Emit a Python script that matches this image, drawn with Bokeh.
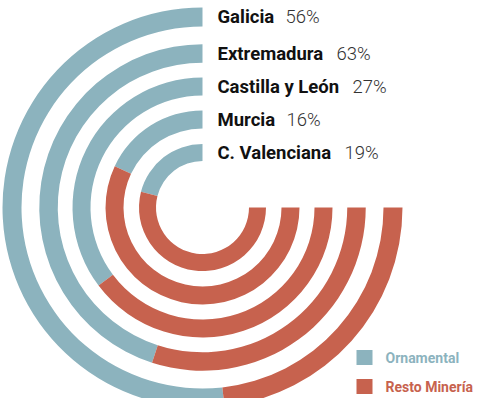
import math
from bokeh.plotting import figure
from bokeh.models import ColumnDataSource
from bokeh.core.properties import value
from bokeh.embed import file_html
from bokeh.resources import INLINE

# ---- data ----
regions = ["Galicia", "Extremadura", "Castilla y León", "Murcia", "C. Valenciana"]
label_pct = [56, 63, 27, 16, 19]
ornamental_share = [69, 60, 47, 24, 28]   # share of the 270° arc (%)
series = ["Ornamental", "Resto Minería"]
series_colors = ["#8cb3be", "#c7624e"]

# ---- layout ----
W, H = 483, 398
cx, cy = 202, 191
mid_r = [190.5, 154, 121, 88, 55]
thick = [19, 18.5, 18, 18, 17]
name_px = [57, 108, 124, 58, 116]
FONT = "Roboto"

p = figure(width=W, height=H, x_range=(0, W), y_range=(0, H),
           output_backend="svg", toolbar_location=None, min_border=0,
           border_fill_color="white", background_fill_color="white")
p.axis.visible = False
p.grid.visible = False
p.outline_line_color = None

total = 1.5 * math.pi
start = [math.pi / 2] * len(regions)
split = [math.pi / 2 + total * s / 100 for s in ornamental_share]
end = [2 * math.pi] * len(regions)
inner = [m - t / 2 for m, t in zip(mid_r, thick)]
outer = [m + t / 2 for m, t in zip(mid_r, thick)]

src = ColumnDataSource(dict(
    x=[cx] * len(regions), y=[cy] * len(regions),
    inner=inner, outer=outer, start=start, split=split, end=end,
))
p.annular_wedge(x="x", y="y", inner_radius="inner", outer_radius="outer",
                start_angle="start", end_angle="split", direction="anticlock",
                source=src, fill_color=series_colors[0], line_color=None)
p.annular_wedge(x="x", y="y", inner_radius="inner", outer_radius="outer",
                start_angle="split", end_angle="end", direction="anticlock",
                source=src, fill_color=series_colors[1], line_color=None)

# labels
lx = cx + 15
ly = [cy + m for m in mid_r]
p.text(x=[lx] * len(regions), y=ly, text=regions,
       text_font=value(FONT), text_font_style="bold", text_font_size="18.5px",
       text_color="#111111", text_baseline="middle", text_align="left")
p.text(x=[lx + w + 11 for w in name_px], y=ly, text=[f"{v}%" for v in label_pct],
       text_font=value("Roboto Light"), text_font_size="18.5px",
       text_color="#333333", text_baseline="middle", text_align="left")

# legend
leg_x = 356
leg_y = [H - 357, H - 386]
p.rect(x=[leg_x + 8] * 2, y=leg_y, width=16, height=15,
       fill_color=series_colors, line_color=None)
for i, s in enumerate(series):
    p.text(x=[leg_x + 29], y=[leg_y[i]], text=[s],
           text_font=value(FONT), text_font_style="bold", text_font_size="14px",
           text_color=series_colors[i], text_baseline="middle", text_align="left")

open("out.html", "w").write(file_html(p, INLINE))
